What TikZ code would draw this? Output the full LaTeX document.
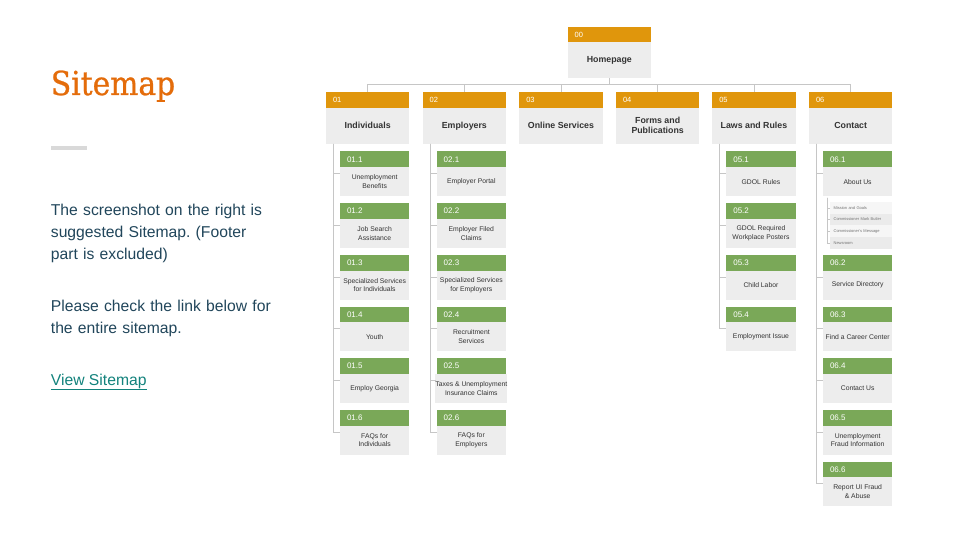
\documentclass[tikz,border=0pt]{standalone}
\usepackage{fontspec}
\setmainfont{Liberation Sans}
\newfontfamily\titlefont[FakeStretch=0.9, FakeBold=0.8]{DejaVu Serif}
\usepackage{xcolor}
\usetikzlibrary{
    calc,
    positioning
}
\definecolor{headorange}{HTML}{E0960C}
\definecolor{headgreen}{HTML}{7AA858}
\definecolor{cardgray}{HTML}{EDEDED}
\definecolor{itempale}{HTML}{F6F6F6}
\definecolor{itemgray}{HTML}{EBEBEB}
\definecolor{linkgray}{HTML}{C6C6C6}
\definecolor{labeldark}{HTML}{333333}
\definecolor{titleorange}{HTML}{E46C0A}
\definecolor{introblue}{HTML}{21465B}
\definecolor{linkteal}{HTML}{12827C}
\definecolor{dashgray}{HTML}{D9D9D9}
\frenchspacing

\begin{document}
\begin{tikzpicture}[x=1pt, y=-1pt,
    head/.style={rectangle, fill=headorange, text=white, inner xsep=7pt, inner ysep=0pt,
        outer sep=0pt, text width=69.3pt, align=left, minimum height=15.5pt,
        font=\fontsize{7.5}{8}\selectfont},
    topbox/.style={rectangle, fill=cardgray, text=labeldark, inner sep=0pt, outer sep=0pt,
        minimum width=83.3pt, minimum height=36pt, align=center,
        font=\bfseries\fontsize{8.8}{10}\selectfont},
    subhead/.style={head, fill=headgreen, text width=55.3pt, minimum height=15.7pt,
        font=\fontsize{8}{8}\selectfont},
    subbox/.style={rectangle, fill=cardgray, text=labeldark, inner sep=0pt, outer sep=0pt,
        minimum width=69.3pt, minimum height=29pt, align=center,
        font=\fontsize{6.8}{8.7}\selectfont},
    subitem/.style={rectangle, inner xsep=4pt, inner ysep=0pt, outer sep=0pt,
        minimum width=62.7pt, minimum height=11.67pt, text width=54.7pt, align=left,
        text=black!55, font=\fontsize{4}{5}\selectfont},
    link/.style={draw=linkgray, line width=0.9pt}
]
\fill[white] (0,0) rectangle (960,540);
\useasboundingbox (0,0) rectangle (960,540);

% left side text
\node[anchor=base west, inner sep=0pt, text=titleorange,
    font=\titlefont\fontsize{33}{33}\selectfont] (title) at (50.7,95) {Sitemap};
\fill[dashgray] (50.7,146.3) rectangle (86.7,150.3);
\node[anchor=north west, inner sep=0pt, text width=240pt, align=left, text=introblue,
    font=\fontsize{15.7}{22}\selectfont] (intro) at (50.7,204.2)
    {The screenshot on the right is\\suggested Sitemap. (Footer\\part is excluded)};
\node[anchor=north west, inner sep=0pt, text width=240pt, align=left, text=introblue,
    font=\fontsize{15.7}{22}\selectfont] (check) at (50.7,300.2)
    {Please check the link below for\\the entire sitemap.};
\node[anchor=base west, inner sep=0pt, text=linkteal,
    font=\fontsize{15.7}{22}\selectfont] (view) at (50.7,385) {\underline{View Sitemap}};

% homepage
\node[head, anchor=north west] (h00) at (567.7,26.7) {00};
\node[topbox, below=0pt of h00] (b00) {Homepage};

% first level
\foreach \n/\x/\txt in {01/326/Individuals, 02/422.7/Employers, 03/519.3/Online Services,
        04/616/{Forms and\\Publications}, 05/712.3/Laws and Rules, 06/809/Contact} {
    \node[head, anchor=north west] (h\n) at (\x,92.3) {\n};
    \node[topbox, below=0pt of h\n] (b\n) {\txt};
    \draw[link] (b00.south) -- ++(0,6.7) -| (h\n.north);
}

% individuals
\coordinate (s01) at ($(b01.south west)+(7.3,0)$);
\foreach \i/\txt in {1/{Unemployment\\Benefits}, 2/{Job Search\\Assistance},
        3/{Specialized Services\\for Individuals}, 4/Youth, 5/Employ Georgia,
        6/{FAQs for\\Individuals}} {
    \node[subhead, anchor=north east] (h01\i) at ($(b01.south east)+(0,{7.7+(\i-1)*51.67})$) {01.\i};
    \node[subbox, below=0pt of h01\i] (b01\i) {\txt};
    \draw[link] (s01) |- ($(h01\i.north west)!0.5!(b01\i.south west)$);
}

% employers
\coordinate (s02) at ($(b02.south west)+(7.3,0)$);
\foreach \i/\txt in {1/Employer Portal, 2/{Employer Filed\\Claims},
        3/{Specialized Services\\for Employers}, 4/{Recruitment\\Services},
        5/{Taxes \& Unemployment\\Insurance Claims}, 6/{FAQs for\\Employers}} {
    \node[subhead, anchor=north east] (h02\i) at ($(b02.south east)+(0,{7.7+(\i-1)*51.67})$) {02.\i};
    \node[subbox, below=0pt of h02\i] (b02\i) {\txt};
    \draw[link] (s02) |- ($(h02\i.north west)!0.5!(b02\i.south west)$);
}

% laws and rules
\coordinate (s05) at ($(b05.south west)+(7.3,0)$);
\foreach \i/\txt in {1/GDOL Rules, 2/{GDOL Required\\Workplace Posters},
        3/Child Labor, 4/Employment Issue} {
    \node[subhead, anchor=north east] (h05\i) at ($(b05.south east)+(0,{7.7+(\i-1)*51.67})$) {05.\i};
    \node[subbox, below=0pt of h05\i] (b05\i) {\txt};
    \draw[link] (s05) |- ($(h05\i.north west)!0.5!(b05\i.south west)$);
}

% contact
\coordinate (s06) at ($(b06.south west)+(7.3,0)$);
\foreach \i/\r/\txt in {1/0/About Us, 2/2/Service Directory, 3/3/Find a Career Center,
        4/4/Contact Us, 5/5/{Unemployment\\Fraud Information}, 6/6/{Report UI Fraud\\\& Abuse}} {
    \node[subhead, anchor=north east] (h06\i) at ($(b06.south east)+(0,{7.7+\r*51.67})$) {06.\i};
    \node[subbox, below=0pt of h06\i] (b06\i) {\txt};
    \draw[link] (s06) |- ($(h06\i.north west)!0.5!(b06\i.south west)$);
}

% about us pages
\coordinate (s061) at ($(b061.south west)+(4.2,1.5)$);
\foreach \k/\shade/\txt in {1/itempale/Mission and Goals, 2/itemgray/Commissioner Mark Butler,
        3/itempale/Commissioner's Message, 4/itemgray/Newsroom} {
    \node[subitem, fill=\shade, anchor=north east] (m\k) at ($(b061.south east)+(0,{5.8+(\k-1)*11.67})$) {\txt};
    \draw[link, line width=0.6pt] (s061) |- (m\k.west);
}
\end{tikzpicture}
\end{document}
